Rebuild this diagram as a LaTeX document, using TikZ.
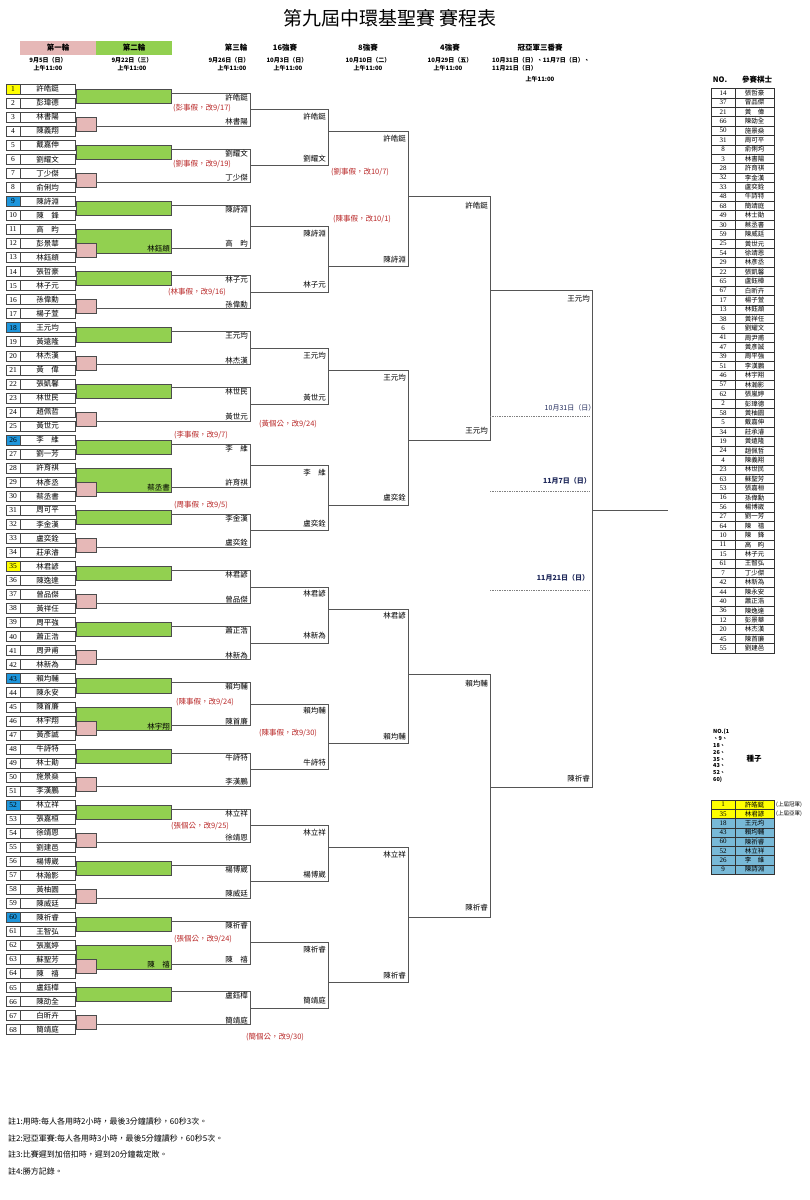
\documentclass[tikz,border=0pt]{standalone}
\usepackage{fontspec}
\setmainfont{Noto Sans CJK TC}
\newfontfamily\ser{Liberation Serif}
\definecolor{gbar}{RGB}{146,208,80}
\definecolor{pbar}{RGB}{230,184,183}
\definecolor{seedy}{RGB}{255,255,0}
\definecolor{seedb}{RGB}{30,150,220}
\definecolor{seedt}{RGB}{120,185,215}
\definecolor{notered}{RGB}{185,40,40}
\definecolor{navy}{RGB}{30,40,90}
\definecolor{linec}{RGB}{85,85,85}
\tikzset{
  br/.style={draw=linec, line width=0.7pt},
  greenbar/.style={fill=gbar, draw=gray!60!black, line width=0.4pt},
  pinkbar/.style={fill=pbar, draw=gray!60!black, line width=0.4pt},
  lbl/.style={font=\fontsize{7.5}{8}\selectfont, inner sep=0pt},
  note/.style={font=\fontsize{7.5}{8}\selectfont, text=notered, inner sep=0pt},
  hd/.style={font=\bfseries\fontsize{7.5}{8}\selectfont, inner sep=0pt},
  hds/.style={font=\bfseries\fontsize{6}{6}\selectfont, inner sep=0pt},
  lnum/.style={draw=gray!55!black, line width=0.5pt, minimum width=14pt, minimum height=10pt, inner sep=0pt, font=\ser\fontsize{7.5}{8}\selectfont},
  lname/.style={draw=gray!55!black, line width=0.5pt, minimum width=55pt, minimum height=10pt, inner sep=0pt, font=\fontsize{7.5}{8}\selectfont},
  tno/.style={draw=gray!40!black, line width=0.4pt, minimum width=24pt, minimum height=9.41pt, inner sep=0pt, font=\ser\fontsize{7}{7}\selectfont},
  tnm/.style={draw=gray!40!black, line width=0.4pt, minimum width=39pt, minimum height=9.41pt, inner sep=0pt, font=\fontsize{6.5}{7}\selectfont},
  dotl/.style={draw=gray, densely dotted, line width=0.7pt},
  dt/.style={font=\fontsize{7}{8}\selectfont, text=navy, inner sep=0pt},
  foot/.style={font=\fontsize{8}{9}\selectfont, inner sep=0pt, anchor=west},
}
\def\lofs{4.3}
% bracket: name, x top start, x bottom start, x vertical, y top, y bottom, top label, bottom label
\newcommand\brk[8]{%
  \coordinate (#1t) at (#4,#5);
  \coordinate (#1b) at (#4,#6);
  \draw[br] (#2,#5) -- (#1t) -- (#1b) -- (#3,#6);
  \node[lbl,anchor=east] (#1x) at (#4-2,#5+\lofs) {#7};
  \node[lbl,anchor=east] (#1y) at (#4-2,#6-\lofs) {#8};
}
\newcommand\gfour[4]{%
  \pgfmathsetmacro\grA{89+(#2-1)*14.04}
  \pgfmathsetmacro\grB{\grA+14.04}
  \pgfmathsetmacro\grC{\grA+28.08}
  \pgfmathsetmacro\grD{\grA+42.12}
  \path[greenbar] (76,\grA) rectangle (171,\grB);
  \path[pinkbar] (76,\grC) rectangle (96,\grD);
  \brk{#1}{171}{96}{250}{\grA+4}{\grD-5}{#3}{#4}
}
\newcommand\gfive[5]{%
  \pgfmathsetmacro\grA{89+(#2-1)*14.04}
  \pgfmathsetmacro\grB{\grA+14.04}
  \pgfmathsetmacro\grC{\grA+28.08}
  \pgfmathsetmacro\grD{\grA+42.12}
  \pgfmathsetmacro\grE{\grA+56.16}
  \path[greenbar] (76,\grA) rectangle (171,\grB);
  \path[greenbar] (76,\grC) rectangle (171,\grD+9.8);
  \node[lbl,anchor=east] (#1z) at (170,\grD+5.5) {#5};
  \path[pinkbar] (76,\grD) rectangle (96,\grE);
  \brk{#1}{171}{171}{250}{\grA+4}{\grD+4.8}{#3}{#4}
}
\begin{document}
\begin{tikzpicture}[x=1pt,y=-1pt]
\useasboundingbox (0,0) rectangle (810,1200);
\fill[white] (0,0) rectangle (810,1200);

% title
\node[font=\fontsize{19}{20}\selectfont, inner sep=0pt] (title) at (390,18) {第九屆中環基聖賽\ 賽程表};

% header
\node[fill=pbar, minimum width=76pt, minimum height=14pt, inner sep=0pt, hd] (h1) at (58,47.5) {第一輪};
\node[fill=gbar, minimum width=76pt, minimum height=14pt, inner sep=0pt, hd] (h2) at (134,47.5) {第二輪};
\node[hds] (h1a) at (48,60) {9月5日（日）};
\node[hds] (h1b) at (48,68.5) {上午11:00};
\node[hds] (h2a) at (132,60) {9月22日（三）};
\node[hds] (h2b) at (132,68.5) {上午11:00};
\node[hd] (h3) at (236,48) {第三輪};
\node[hds] (h3a) at (229,60) {9月26日（日）};
\node[hds] (h3b) at (232,68.5) {上午11:00};
\node[hd] (h4) at (285,48) {16強賽};
\node[hds] (h4a) at (287,60) {10月3日（日）};
\node[hds] (h4b) at (288,68.5) {上午11:00};
\node[hd] (h5) at (368,48) {8強賽};
\node[hds] (h5a) at (368,60) {10月10日（二）};
\node[hds] (h5b) at (368,68.5) {上午11:00};
\node[hd] (h6) at (450,48) {4強賽};
\node[hds] (h6a) at (450,60) {10月29日（五）};
\node[hds] (h6b) at (448,68.5) {上午11:00};
\node[hd] (h7) at (540,48) {冠亞軍三番賽};
\node[hds,anchor=west] (h7a) at (492,60) {10月31日（日）、11月7日（日）、};
\node[hds,anchor=west] (h7b) at (492,68.5) {11月21日（日）};
\node[hds] (h7c) at (540,79) {上午11:00};
\node[hd] (rh1) at (720,80) {NO.};
\node[hd] (rh2) at (757,80) {參賽棋士};

% left list
\foreach \i/\nm/\cl in {1/許皓鋌/seedy,2/彭瑋德/white,3/林書陽/white,4/陳義翔/white,5/戴嘉伸/white,6/劉耀文/white,7/丁少傑/white,8/俞俐均/white,9/陳詩淵/seedb,10/陳　鋒/white,11/高　昀/white,12/彭景華/white,13/林鈺頫/white,14/張哲豪/white,15/林子元/white,16/孫偉勳/white,17/楊子萱/white,18/王元均/seedb,19/黃遠隆/white,20/林杰漢/white,21/黃　偉/white,22/張凱馨/white,23/林世民/white,24/趙佩哲/white,25/黃世元/white,26/李　維/seedb,27/劉一芳/white,28/許育祺/white,29/林彥丞/white,30/蔡丞書/white,31/周可平/white,32/李金漢/white,33/盧奕銓/white,34/莊承濬/white,35/林君諺/seedy,36/陳逸達/white,37/曾品傑/white,38/黃祥任/white,39/周平強/white,40/蕭正浩/white,41/周尹甫/white,42/林新為/white,43/賴均輔/seedb,44/陳永安/white,45/陳首廉/white,46/林宇翔/white,47/黃彥誠/white,48/牛詩特/white,49/林士勛/white,50/施景燊/white,51/李漢鵬/white,52/林立祥/seedb,53/張嘉桓/white,54/徐靖恩/white,55/劉建邑/white,56/楊博崴/white,57/林瀚影/white,58/黃柚園/white,59/陳威廷/white,60/陳祈睿/seedb,61/王智弘/white,62/張嵐婷/white,63/蘇聖芳/white,64/陳　禧/white,65/盧鈺樺/white,66/陳劭全/white,67/白昕卉/white,68/簡靖庭/white}{
  \pgfmathsetmacro\yy{89+(\i-1)*14.04}
  \node[lnum, fill=\cl] (ln\i) at (13,\yy) {\i};
  \node[lname] (lm\i) at (47.5,\yy) {\nm};
}

% first-level groups (round 1, 2, 3)
\def\lofs{4.3}
\gfour{g1}{1}{許皓鋌}{林書陽}
\gfour{g2}{5}{劉耀文}{丁少傑}
\gfive{g3}{9}{陳詩淵}{高　昀}{林鈺頫}
\gfour{g4}{14}{林子元}{孫偉勳}
\gfour{g5}{18}{王元均}{林杰漢}
\gfour{g6}{22}{林世民}{黃世元}
\gfive{g7}{26}{李　維}{許育祺}{蔡丞書}
\gfour{g8}{31}{李金漢}{盧奕銓}
\gfour{g9}{35}{林君諺}{曾品傑}
\gfour{g10}{39}{蕭正浩}{林新為}
\gfive{g11}{43}{賴均輔}{陳首廉}{林宇翔}
\gfour{g12}{48}{牛詩特}{李漢鵬}
\gfour{g13}{52}{林立祥}{徐靖恩}
\gfour{g14}{56}{楊博崴}{陳威廷}
\gfive{g15}{60}{陳祈睿}{陳　禧}{陳　禧}
\gfour{g16}{65}{盧鈺樺}{簡靖庭}

% round of 16
\def\lofs{7}
\brk{p1}{250}{250}{328}{109.56}{165.72}{許皓鋌}{劉耀文}
\brk{p2}{250}{250}{328}{226.78}{292.08}{陳詩淵}{林子元}
\brk{p3}{250}{250}{328}{348.24}{404.40}{王元均}{黃世元}
\brk{p4}{250}{250}{328}{465.46}{530.76}{李　維}{盧奕銓}
\brk{p5}{250}{250}{328}{586.92}{643.08}{林君諺}{林新為}
\brk{p6}{250}{250}{328}{704.14}{769.44}{賴均輔}{牛詩特}
\brk{p7}{250}{250}{328}{825.60}{881.76}{林立祥}{楊博崴}
\brk{p8}{250}{250}{328}{942.82}{1008.12}{陳祈睿}{簡靖庭}

% quarter
\brk{q1}{328}{328}{408}{131.64}{266.43}{許皓鋌}{陳詩淵}
\brk{q2}{328}{328}{408}{370.32}{505.11}{王元均}{盧奕銓}
\brk{q3}{328}{328}{408}{609.00}{743.79}{林君諺}{賴均輔}
\brk{q4}{328}{328}{408}{847.68}{982.47}{林立祥}{陳祈睿}

% semi
\def\lofs{9.5}
\brk{s1}{408}{408}{490}{196.6}{440.1}{許皓鋌}{王元均}
\brk{s2}{408}{408}{490}{674.0}{917.5}{賴均輔}{陳祈睿}

% final
\def\lofs{8.5}
\brk{f1}{490}{490}{592}{290}{787}{王元均}{陳祈睿}
\coordinate (fo) at (592,510);
\coordinate (fe) at (668,510);
\draw[br] (fo) -- (fe);

% final dates
\coordinate (d1a) at (490,416.7); \coordinate (d1b) at (590,416.7);
\coordinate (d2a) at (490,491.7); \coordinate (d2b) at (590,491.7);
\coordinate (d3a) at (490,590); \coordinate (d3b) at (590,590);
\draw[dotl] (d1a) -- (d1b);
\draw[dotl] (d2a) -- (d2b);
\draw[dotl] (d3a) -- (d3b);
\node[dt] (dd1) at (570,408) {10月31日（日）};
\node[dt,font=\bfseries\fontsize{7}{8}\selectfont] (dd2) at (567,481) {11月7日（日）};
\node[dt,font=\bfseries\fontsize{7}{8}\selectfont] (dd3) at (563,578) {11月21日（日）};

% notes
\node[note] (nt1) at (202,108) {(彭事假，改9/17)};
\node[note] (nt2) at (202,164) {(劉事假，改9/19)};
\node[note] (nt3) at (197,292) {(林事假，改9/16)};
\node[note] (nt4) at (201,435) {(李事假，改9/7)};
\node[note] (nt5) at (201,505) {(周事假，改9/5)};
\node[note] (nt6) at (205,702) {(陳事假，改9/24)};
\node[note] (nt7) at (200,826) {(張個公，改9/25)};
\node[note] (nt8) at (203,939) {(張個公，改9/24)};
\node[note] (nt9) at (275,1037) {(簡個公，改9/30)};
\node[note] (nt10) at (360,172) {(劉事假，改10/7)};
\node[note] (nt11) at (362,219) {(陳事假，改10/1)};
\node[note] (nt12) at (288,424) {(黃個公，改9/24)};
\node[note] (nt13) at (288,733) {(陳事假，改9/30)};

% right table
\foreach \no/\nm [count=\k] in {14/張哲豪,37/曾品傑,21/黃　偉,66/陳劭全,50/施景燊,31/周可平,8/俞俐均,3/林書陽,28/許育祺,32/李金漢,33/盧奕銓,48/牛詩特,68/簡靖庭,49/林士勛,30/蔡丞書,59/陳威廷,25/黃世元,54/徐靖恩,29/林彥丞,22/張凱馨,65/盧鈺樺,67/白昕卉,17/楊子萱,13/林鈺頫,38/黃祥任,6/劉耀文,41/周尹甫,47/黃彥誠,39/周平強,51/李漢鵬,46/林宇翔,57/林瀚影,62/張嵐婷,2/彭瑋德,58/黃柚園,5/戴嘉伸,34/莊承濬,19/黃遠隆,24/趙佩哲,4/陳義翔,23/林世民,63/蘇聖芳,53/張嘉桓,16/孫偉勳,56/楊博崴,27/劉一芳,64/陳　禧,10/陳　鋒,11/高　昀,15/林子元,61/王智弘,7/丁少傑,42/林新為,44/陳永安,40/蕭正浩,36/陳逸達,12/彭景華,20/林杰漢,45/陳首廉,55/劉建邑}{
  \pgfmathsetmacro\ty{93+(\k-1)*9.41}
  \node[tno] (rn\k) at (723,\ty) {\no};
  \node[tnm] (rm\k) at (754.5,\ty) {\nm};
}

% seed legend
\node[font=\bfseries\fontsize{5.5}{6.8}\selectfont, align=left, inner sep=0pt, anchor=north west] (seedno) at (713,729) {NO.(1\\、9、\\18、\\26、\\35、\\43、\\52、\\60)};
\node[hd] (seedtitle) at (754,759) {種子};
\foreach \no/\nm/\cl [count=\k] in {1/許皓鋌/seedy,35/林君諺/seedy,18/王元均/seedt,43/賴均輔/seedt,60/陳祈睿/seedt,52/林立祥/seedt,26/李　維/seedt,9/陳詩淵/seedt}{
  \pgfmathsetmacro\ty{804.6+(\k-1)*9.27}
  \node[tno, fill=\cl, minimum height=9.27pt] (sn\k) at (723,\ty) {\no};
  \node[tnm, fill=\cl, minimum height=9.27pt] (sm\k) at (754.5,\ty) {\nm};
}
\node[font=\fontsize{5.5}{6}\selectfont, inner sep=0pt, anchor=west] (cham) at (776,804.6) {(上屆冠軍)};
\node[font=\fontsize{5.5}{6}\selectfont, inner sep=0pt, anchor=west] (runr) at (776,813.9) {(上屆亞軍)};

% footnotes
\node[foot] (ft1) at (8,1121) {註1:用時:每人各用時2小時，最後3分鐘讀秒，60秒3次。};
\node[foot] (ft2) at (8,1138) {註2:冠亞軍賽:每人各用時3小時，最後5分鐘讀秒，60秒5次。};
\node[foot] (ft3) at (8,1154) {註3:比賽遲到加倍扣時，遲到20分鐘裁定敗。};
\node[foot] (ft4) at (8,1171) {註4:勝方記錄。};
\end{tikzpicture}
\end{document}
